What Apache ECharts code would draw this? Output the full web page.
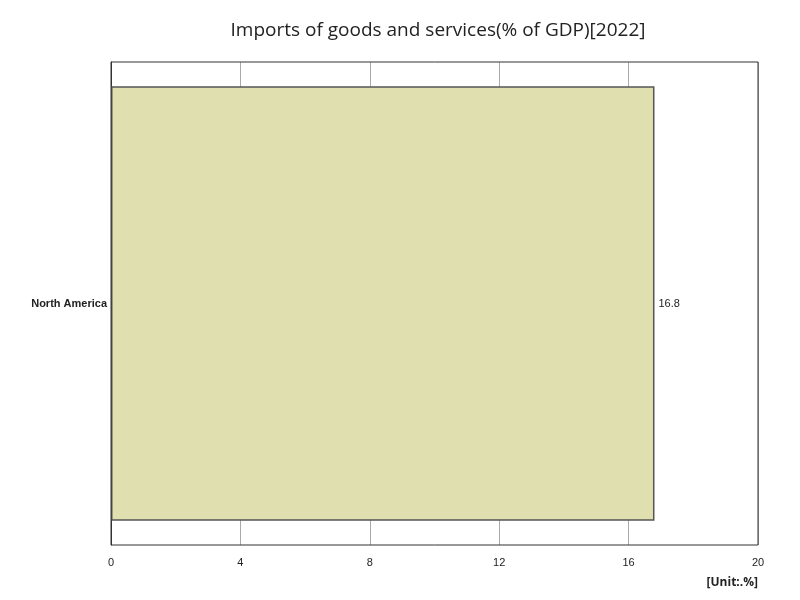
<!DOCTYPE html>
<html><head><meta charset="utf-8">
<script src="https://cdn.jsdelivr.net/npm/echarts@6/dist/echarts.min.js"></script>
<style>html,body{margin:0;padding:0}#c{width:800px;height:600px}</style>
</head><body><div id="c"></div>
<script>
const categories = ["North America"];
const values = [16.8];
const xTicks = [0, 4, 8, 12, 16, 20];
const chart = echarts.init(document.getElementById('c'));
chart.setOption({
  backgroundColor: '#fff',
  title: { text: 'Imports of goods and services(% of GDP)[2022]', left: 433, top: 16, textAlign: 'center',
    textStyle: { fontSize: 19, fontWeight: 'normal', color: '#222', fontFamily: 'Open Sans' } },
  graphic: [{ type: 'text', right: 42, top: 577, style: { text: '[Unit:.%]', font: 'bold 12px "Open Sans"', fill: '#222' } }],
  grid: { left: 111, right: 42, top: 62, bottom: 55 },
  xAxis: { type: 'value', min: xTicks[0], max: xTicks[xTicks.length-1], interval: 4,
    axisLine: { show: false }, axisTick: { show: false },
    axisLabel: { color: '#222', fontSize: 11, margin: 12 },
    splitLine: { lineStyle: { color: '#aaa' } } },
  yAxis: { type: 'category', data: categories,
    axisLine: { lineStyle: { color: '#333' } }, axisTick: { show: false },
    axisLabel: { color: '#222', fontSize: 11, fontWeight: 'bold', margin: 4 } },
  series: [{ type: 'bar', data: values, barWidth: '90%',
    itemStyle: { color: '#dfdfb0', borderColor: '#555', borderWidth: 1.5 },
    label: { show: true, position: 'right', color: '#222', fontSize: 11, distance: 4 } }]
});
// frame
chart.setOption({ graphic: [{ type: 'text', right: 42, top: 577, style: { text: '[Unit:.%]', font: 'bold 12px "Open Sans"', fill: '#222' } },
  { type: 'rect', shape: { x: 111, y: 62, width: 647, height: 483 }, style: { fill: 'none', stroke: '#333', lineWidth: 1 }, z: 100 }] });
</script></body></html>
